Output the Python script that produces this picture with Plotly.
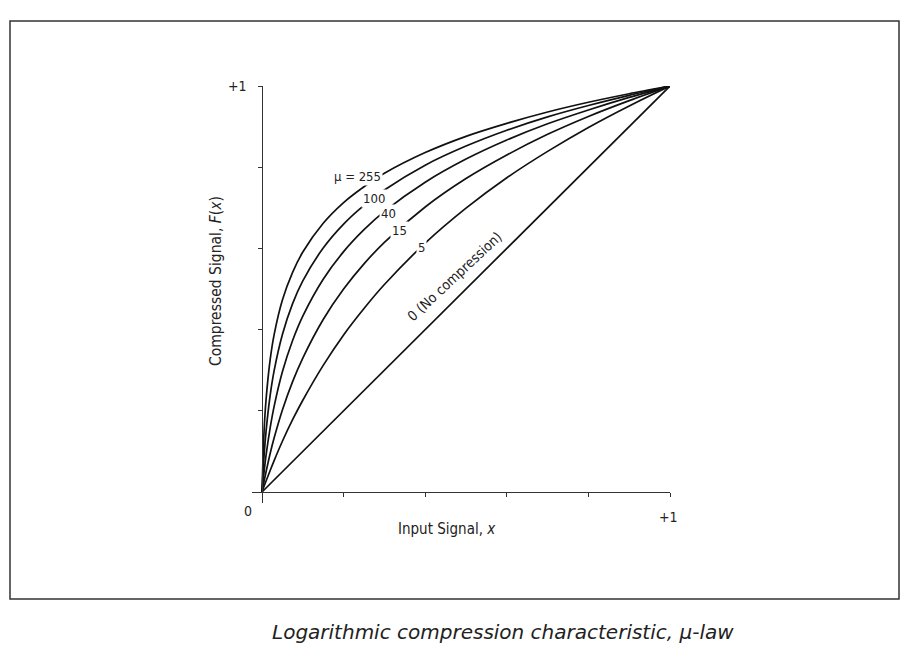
import plotly.graph_objects as go

# ---- data ----
x_in = [0, 0.005, 0.01, 0.02, 0.03, 0.05, 0.075, 0.1, 0.15, 0.2, 0.25, 0.3, 0.4, 0.5, 0.6, 0.7, 0.8, 0.9, 1.0]
mu255 = [0, 0.148, 0.228, 0.326, 0.389, 0.473, 0.541, 0.591, 0.662, 0.713, 0.752, 0.785, 0.836, 0.876, 0.908, 0.936, 0.960, 0.981, 1.0]
mu100 = [0, 0.088, 0.150, 0.238, 0.300, 0.388, 0.464, 0.520, 0.601, 0.660, 0.706, 0.744, 0.805, 0.852, 0.891, 0.924, 0.952, 0.977, 1.0]
mu40 = [0, 0.049, 0.091, 0.158, 0.212, 0.296, 0.373, 0.433, 0.524, 0.592, 0.646, 0.691, 0.763, 0.820, 0.867, 0.907, 0.941, 0.972, 1.0]
mu15 = [0, 0.026, 0.050, 0.095, 0.134, 0.202, 0.272, 0.330, 0.425, 0.500, 0.562, 0.615, 0.702, 0.772, 0.830, 0.881, 0.925, 0.964, 1.0]
mu5 = [0, 0.014, 0.027, 0.053, 0.078, 0.125, 0.178, 0.226, 0.312, 0.387, 0.452, 0.511, 0.613, 0.699, 0.774, 0.839, 0.898, 0.951, 1.0]
mu0_x = [0, 1.0]
mu0 = [0, 1.0]

tick_vals = [0.2, 0.4, 0.6, 0.8, 1.0]

curve_labels = ["\u03bc = 255", "100", "40", "15", "5"]
label_x = [0.233, 0.275, 0.309, 0.338, 0.390]
label_y = [0.778, 0.724, 0.687, 0.645, 0.603]

FONT = "DejaVu Sans Condensed, Liberation Sans Narrow, Arial Narrow, sans-serif"
TXT = "#222222"

fig = go.Figure()
for ys in [mu255, mu100, mu40, mu15, mu5]:
    fig.add_trace(go.Scatter(x=x_in, y=ys, mode="lines",
                             line=dict(color="#111111", width=1.7, shape="spline", smoothing=0.8),
                             showlegend=False, hoverinfo="skip"))
fig.add_trace(go.Scatter(x=mu0_x, y=mu0, mode="lines",
                         line=dict(color="#111111", width=1.7),
                         showlegend=False, hoverinfo="skip"))

OFF = 8  # page offset of the figure (body margin)
W, H = 918, 660
L, R, T, B = 244, 256, 78, 165
pw, ph = W - L - R, H - T - B


def px(xp):
    return (xp - OFF - L) / pw


def py(yp):
    return (H - B - (yp - OFF)) / ph


xr = [-10 / 408, 1.0]
yr = [-11 / 406, 1.0]

fig.update_layout(
    width=W, height=H,
    margin=dict(l=L, r=R, t=T, b=B, pad=0),
    paper_bgcolor="white", plot_bgcolor="white",
    font=dict(family=FONT, color=TXT, size=12),
    xaxis=dict(range=xr, showgrid=False, zeroline=False, showline=True,
               linecolor="#333333", linewidth=1.2, anchor="free",
               position=(0 - yr[0]) / (yr[1] - yr[0]),
               ticks="outside", ticklen=4, tickwidth=1, tickcolor="#333333",
               tickvals=tick_vals, showticklabels=False, fixedrange=True),
    yaxis=dict(range=yr, showgrid=False, zeroline=False, showline=True,
               linecolor="#333333", linewidth=1.2, anchor="free",
               position=(0 - xr[0]) / (xr[1] - xr[0]),
               ticks="outside", ticklen=4, tickwidth=1, tickcolor="#333333",
               tickvals=tick_vals, showticklabels=False, fixedrange=True),
)

# outer frame
fig.add_shape(type="rect", xref="paper", yref="paper",
              x0=px(10), x1=px(899), y0=py(599), y1=py(21),
              line=dict(color="#333333", width=1.5), fillcolor="rgba(0,0,0,0)")

C = dict(xanchor="center", yanchor="middle", showarrow=False)
ann = []
for t, lx, ly in zip(curve_labels, label_x, label_y):
    ann.append(dict(x=lx, y=ly, xref="x", yref="y", text=t,
                    font=dict(size=13, family=FONT, color=TXT),
                    bgcolor="white", borderpad=1, **C))
ann.append(dict(x=0.473, y=0.532, xref="x", yref="y", text="0 (No compression)",
                textangle=-43, font=dict(size=14, family=FONT, color=TXT), **C))
# axis end labels
ann.append(dict(x=px(248), y=py(511), xref="paper", yref="paper", text="0",
                font=dict(size=14, family=FONT, color=TXT), **C))
ann.append(dict(x=px(668), y=py(517), xref="paper", yref="paper", text="+1",
                font=dict(size=14, family=FONT, color=TXT), **C))
ann.append(dict(x=px(237), y=py(86), xref="paper", yref="paper", text="+1",
                font=dict(size=14, family=FONT, color=TXT), **C))
# axis titles
ann.append(dict(x=px(447), y=py(529), xref="paper", yref="paper",
                text="Input Signal, <i>x</i>",
                font=dict(size=15, family=FONT, color=TXT), **C))
ann.append(dict(x=px(216), y=py(281), xref="paper", yref="paper",
                text="Compressed Signal, <i>F</i>(<i>x</i>)",
                textangle=-90, font=dict(size=15.5, family=FONT, color=TXT), **C))
# caption
ann.append(dict(x=px(503), y=py(632), xref="paper", yref="paper",
                text="<i>Logarithmic compression characteristic, \u03bc-law</i>",
                font=dict(size=20, family="DejaVu Sans, Verdana, sans-serif", color=TXT), **C))
fig.update_layout(annotations=ann)

fig.write_html("out.html")
